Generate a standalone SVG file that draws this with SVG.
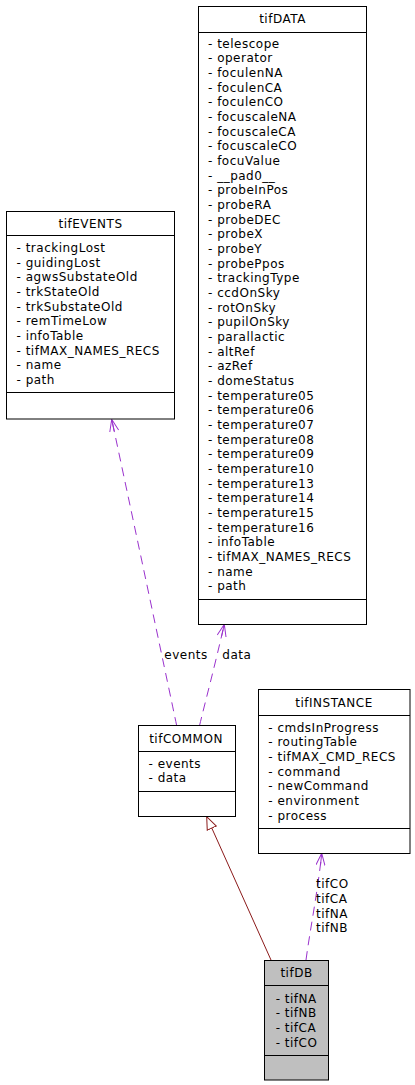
<svg xmlns="http://www.w3.org/2000/svg" width="415" height="1085" viewBox="0 0 415 1085">
<style>
text{font-family:"DejaVu Sans","Liberation Sans",sans-serif;font-size:12px;letter-spacing:0.5px;fill:#000}
.t{text-anchor:middle}
.box{fill:#fff;stroke:#000;stroke-width:1}
.sel{fill:#bfbfbf;stroke:#000;stroke-width:1}
.sep{stroke:#000;stroke-width:1}
.use{fill:none;stroke:#9a32cd;stroke-width:1;stroke-dasharray:9,6}
.gen{fill:none;stroke:#8b1a1a;stroke-width:1}
</style>
<defs>
<marker id="vee" viewBox="0 0 14 10" refX="13" refY="5" markerWidth="14" markerHeight="10" markerUnits="userSpaceOnUse" orient="auto">
<path d="M1,0.5 L13,5 L1,9.5 M1,5 L13,5" fill="none" stroke="#9a32cd" stroke-width="1"/>
</marker>
<marker id="tri" viewBox="0 0 14 12" refX="13" refY="6" markerWidth="14" markerHeight="12" markerUnits="userSpaceOnUse" orient="auto">
<path d="M0.5,1 L13,6 L0.5,11 Z" fill="#fff" stroke="#8b1a1a" stroke-width="1"/>
</marker>
</defs>

<g id="connectors">
<path class="use" d="M176.7,725.7 C165,670 130,505 111.7,419.3" marker-end="url(#vee)"/>
<path class="use" d="M199.5,725.7 C205,703 215,665 224.3,624.3" marker-end="url(#vee)"/>
<path class="use" d="M306,960 C310,930 318,890 321.7,853.3" marker-end="url(#vee)"/>
<path class="gen" d="M271,960 L206.7,816.7" marker-end="url(#tri)"/>
<text x="164.3" y="659.3">events</text>
<text x="222.3" y="659.3">data</text>
<text x="316" y="888.3">tifCO</text>
<text x="316" y="903">tifCA</text>
<text x="316" y="917.7">tifNA</text>
<text x="316" y="932.3">tifNB</text>
</g>

<g id="tifDATA">
<rect class="box" x="198.5" y="6.5" width="168" height="618"/>
<line class="sep" x1="198.5" y1="32.5" x2="366.5" y2="32.5"/>
<line class="sep" x1="198.5" y1="599.5" x2="366.5" y2="599.5"/>
<text class="t" x="282.5" y="23.3">tifDATA</text>
<text x="208" y="47.5">- telescope</text>
<text x="208" y="62.2">- operator</text>
<text x="208" y="76.8">- foculenNA</text>
<text x="208" y="91.5">- foculenCA</text>
<text x="208" y="106.2">- foculenCO</text>
<text x="208" y="120.8">- focuscaleNA</text>
<text x="208" y="135.5">- focuscaleCA</text>
<text x="208" y="150.2">- focuscaleCO</text>
<text x="208" y="164.9">- focuValue</text>
<text x="208" y="179.5">- __pad0__</text>
<text x="208" y="194.2">- probeInPos</text>
<text x="208" y="208.9">- probeRA</text>
<text x="208" y="223.5">- probeDEC</text>
<text x="208" y="238.2">- probeX</text>
<text x="208" y="252.9">- probeY</text>
<text x="208" y="267.5">- probePpos</text>
<text x="208" y="282.2">- trackingType</text>
<text x="208" y="296.9">- ccdOnSky</text>
<text x="208" y="311.6">- rotOnSky</text>
<text x="208" y="326.2">- pupilOnSky</text>
<text x="208" y="340.9">- parallactic</text>
<text x="208" y="355.6">- altRef</text>
<text x="208" y="370.2">- azRef</text>
<text x="208" y="384.9">- domeStatus</text>
<text x="208" y="399.6">- temperature05</text>
<text x="208" y="414.2">- temperature06</text>
<text x="208" y="428.9">- temperature07</text>
<text x="208" y="443.6">- temperature08</text>
<text x="208" y="458.3">- temperature09</text>
<text x="208" y="472.9">- temperature10</text>
<text x="208" y="487.6">- temperature13</text>
<text x="208" y="502.3">- temperature14</text>
<text x="208" y="516.9">- temperature15</text>
<text x="208" y="531.6">- temperature16</text>
<text x="208" y="546.3">- infoTable</text>
<text x="208" y="560.9">- tifMAX_NAMES_RECS</text>
<text x="208" y="575.6">- name</text>
<text x="208" y="590.3">- path</text>
</g>

<g id="tifEVENTS">
<rect class="box" x="6.5" y="211.5" width="168" height="207.5"/>
<line class="sep" x1="6.5" y1="235.5" x2="174.5" y2="235.5"/>
<line class="sep" x1="6.5" y1="392.5" x2="174.5" y2="392.5"/>
<text class="t" x="90.5" y="227.7">tifEVENTS</text>
<text x="16.5" y="252">- trackingLost</text>
<text x="16.5" y="266.7">- guidingLost</text>
<text x="16.5" y="281.3">- agwsSubstateOld</text>
<text x="16.5" y="296">- trkStateOld</text>
<text x="16.5" y="310.7">- trkSubstateOld</text>
<text x="16.5" y="325.3">- remTimeLow</text>
<text x="16.5" y="340">- infoTable</text>
<text x="16.5" y="354.7">- tifMAX_NAMES_RECS</text>
<text x="16.5" y="369.4">- name</text>
<text x="16.5" y="384">- path</text>
</g>

<g id="tifCOMMON">
<rect class="box" x="138.5" y="725.5" width="97" height="91"/>
<line class="sep" x1="138.5" y1="751.5" x2="235.5" y2="751.5"/>
<line class="sep" x1="138.5" y1="791.5" x2="235.5" y2="791.5"/>
<text class="t" x="186" y="742.7">tifCOMMON</text>
<text x="148.5" y="767.7">- events</text>
<text x="148.5" y="782.3">- data</text>
</g>

<g id="tifINSTANCE">
<rect class="box" x="258.5" y="689.5" width="151.5" height="164"/>
<line class="sep" x1="258.5" y1="715.5" x2="410" y2="715.5"/>
<line class="sep" x1="258.5" y1="828.5" x2="410" y2="828.5"/>
<text class="t" x="334" y="706.7">tifINSTANCE</text>
<text x="268.3" y="731.7">- cmdsInProgress</text>
<text x="268.3" y="746.4">- routingTable</text>
<text x="268.3" y="761">- tifMAX_CMD_RECS</text>
<text x="268.3" y="775.7">- command</text>
<text x="268.3" y="790.4">- newCommand</text>
<text x="268.3" y="805">- environment</text>
<text x="268.3" y="819.7">- process</text>
</g>

<g id="tifDB">
<rect class="sel" x="264.5" y="960.5" width="64" height="119.5"/>
<line class="sep" x1="264.5" y1="985.5" x2="328.5" y2="985.5"/>
<line class="sep" x1="264.5" y1="1055.5" x2="328.5" y2="1055.5"/>
<text class="t" x="296.5" y="976.7">tifDB</text>
<text x="275.7" y="1002.7">- tifNA</text>
<text x="275.7" y="1017.3">- tifNB</text>
<text x="275.7" y="1032">- tifCA</text>
<text x="275.7" y="1046.7">- tifCO</text>
</g>
</svg>
